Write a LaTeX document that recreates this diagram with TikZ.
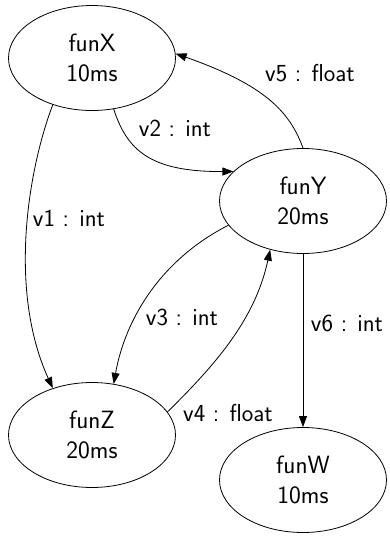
\documentclass[tikz,border=0pt]{standalone}
\usetikzlibrary{shapes.geometric,arrows.meta}
\begin{document}
\begin{tikzpicture}[x=1pt,y=-1pt,
  fn/.style={draw,ellipse,minimum width=167pt,minimum height=105pt,inner sep=0pt,
    font=\sffamily\fontsize{25}{30}\selectfont,align=center,line width=0.8pt},
  lbl/.style={font=\sffamily\fontsize{24.5}{29}\selectfont,inner sep=0pt},
  edge/.style={line width=0.8pt,-{Triangle[length=11pt,width=8pt]}}]
\useasboundingbox (0,0) rectangle (389,536);
\node[fn] (X) at (92,58) {funX\\10ms};
\node[fn] (Y) at (303,201) {funY\\20ms};
\node[fn] (Z) at (92,435) {funZ\\20ms};
\node[fn] (W) at (303,480) {funW\\10ms};
\draw[edge] (X.230) .. controls (28,170) and (8,290) .. (Z.130);
\draw[edge] (X.293) .. controls (127,150) and (150,172) .. (Y.157);
\draw[edge] (Y.90) .. controls (290,112) and (265,85) .. (X.3);
\draw[edge] (Y.198) .. controls (160,260) and (125,320) .. (Z.67);
\draw[edge] (Z.17) .. controls (215,365) and (255,320) .. (Y.236);
\draw[edge] (Y.270) -- (W.90);
\node[lbl] (l1) at (69,218) {v1 : int};
\node[lbl] (l2) at (175,128) {v2 : int};
\node[lbl] (l5) at (310,73) {v5 : float};
\node[lbl] (l3) at (182,317) {v3 : int};
\node[lbl] (l4) at (228,413) {v4 : float};
\node[lbl] (l6) at (347,323) {v6 : int};
\end{tikzpicture}
\end{document}
